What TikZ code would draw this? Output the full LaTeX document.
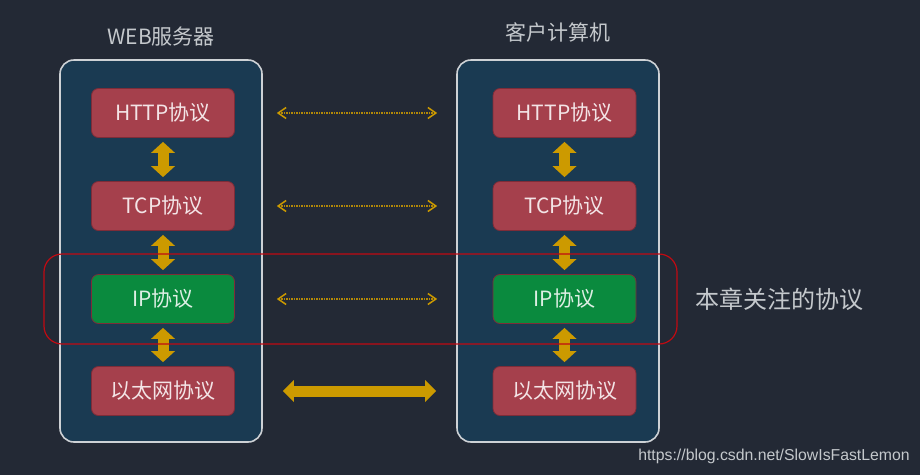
\documentclass[tikz,border=0pt]{standalone}
\usepackage{fontspec}
\setmainfont{Noto Sans CJK SC}
\newfontfamily\creditfont{Liberation Sans}
\usetikzlibrary{
	arrows.meta,
	positioning
}
\definecolor{backdrop}{HTML}{232935}
\definecolor{panelblue}{HTML}{1A3A52}
\definecolor{panelrim}{HTML}{CDD1D5}
\definecolor{layerred}{HTML}{A5404C}
\definecolor{layerrim}{HTML}{7E2C38}
\definecolor{layergreen}{HTML}{0A8A3E}
\definecolor{arrowgold}{HTML}{CC9A00}
\definecolor{focusred}{HTML}{C00A12}
\definecolor{softgray}{HTML}{C4C8CC}
\tikzset{
	panel/.style={
		draw=panelrim, fill=panelblue, line width=1.6pt,
		rounded corners=14pt, minimum width=202pt, minimum height=382pt
	},
	layer/.style={
		draw=layerrim, fill=layerred, line width=0.8pt, rounded corners=7pt,
		minimum width=143pt, minimum height=49pt, inner sep=0pt,
		text=white!86!layerred, font=\fontsize{21}{25}\selectfont
	},
	focus layer/.style={
		layer, fill=layergreen, text=white!86!layergreen
	},
	title/.style={
		text=softgray, font=\fontsize{21}{25}\selectfont
	},
	stack arrow/.style={
		draw=arrowgold, line width=11pt, shorten <=4pt, shorten >=4pt,
		{Triangle[length=11pt,width=24pt,line width=0pt]}-{Triangle[length=11pt,width=24pt,line width=0pt]}
	},
	peer arrow/.style={
		draw=arrowgold!85!backdrop, line width=1.5pt, densely dotted,
		shorten <=14pt, shorten >=19pt,
		{Straight Barb[length=8pt,width=11pt,color=arrowgold]}-{Straight Barb[length=8pt,width=11pt,color=arrowgold]}
	},
	link arrow/.style={
		draw=arrowgold, line width=11pt, shorten <=20pt, shorten >=20pt,
		{Triangle[length=11pt,width=22pt,line width=0pt]}-{Triangle[length=11pt,width=22pt,line width=0pt]}
	}
}

\begin{document}
\begin{tikzpicture}[x=1pt, y=-1pt]
	\fill[backdrop] (0,0) rectangle (920,475);
	\useasboundingbox (0,0) rectangle (920,475);

	\node[panel] (server) at (161,251) {};
	\node[panel] (client) at (558,251) {};
	\node[title] (servertitle) at (161,37) {WEB服务器};
	\node[title] (clienttitle) at (558,32) {客户计算机};

	% protocol stacks
	\foreach \name/\text/\y/\kind in {http/HTTP协议/113/layer, tcp/TCP协议/206/layer, ip/IP协议/299/focus layer, eth/以太网协议/391/layer} {
		\node[\kind] (s\name) at (163,\y) {\text};
		\node[\kind] (c\name) at (564.5,\y) {\text};
	}
	\foreach \upper/\lower in {http/tcp, tcp/ip, ip/eth} {
		\draw[stack arrow, xshift=-2pt] (s\upper) -- (s\lower);
		\draw[stack arrow] (c\upper) -- (c\lower);
	}
	\foreach \name in {http, tcp, ip}
		\draw[peer arrow] (s\name -| server.east) -- (c\name -| client.west);
	\draw[link arrow] (seth -| server.east) -- (ceth -| client.west);

	\node[draw=focusred, line width=1.2pt, rounded corners=18pt, minimum width=633pt, minimum height=90pt] (focus) at (360.5,299) {};
	\node[right=18pt of focus, inner sep=0pt, text=softgray, font=\fontsize{24}{28}\selectfont] (focusnote) {本章关注的协议};
	\node[text=softgray, font=\creditfont\fontsize{15.8}{19}\selectfont] (credit) at (774,456) {https://blog.csdn.net/SlowIsFastLemon};
\end{tikzpicture}
\end{document}
